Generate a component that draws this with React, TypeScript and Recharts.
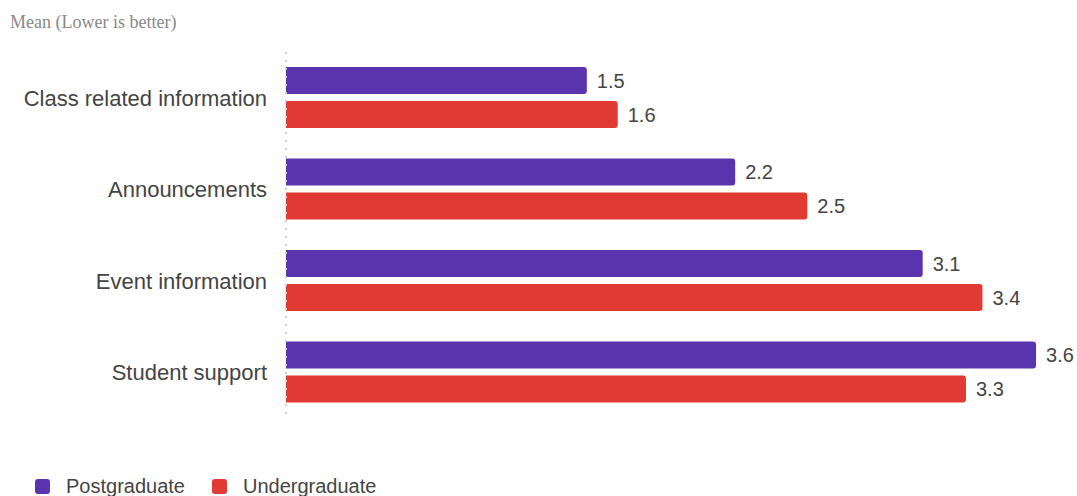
import { BarChart, Bar, XAxis, YAxis, Legend, LabelList } from "recharts";

// categories and series (mean scores, lower is better)
const categories = ["Class related information", "Announcements", "Event information", "Student support"];
const postgraduate = [1.46, 2.18, 3.09, 3.64];
const undergraduate = [1.61, 2.53, 3.38, 3.3];

const seriesInfo = [
  { key: "postgraduate", name: "Postgraduate", color: "#5a33ae" },
  { key: "undergraduate", name: "Undergraduate", color: "#e03a33" },
];

const data = categories.map((c, i) => ({
  category: c,
  postgraduate: postgraduate[i],
  undergraduate: undergraduate[i],
}));

const FONT = '"Liberation Sans", Arial, sans-serif';

const renderLegend = () => (
  <div
    style={{
      height: 78,
      boxSizing: "border-box",
      paddingTop: 58,
      paddingLeft: 27,
      display: "flex",
      alignItems: "flex-start",
      fontFamily: FONT,
      fontSize: 20,
      color: "#444",
    }}
  >
    {seriesInfo.map((s) => (
      <div key={s.key} style={{ display: "flex", alignItems: "center", height: 20, marginRight: 27 }}>
        <span
          style={{
            display: "inline-block",
            width: 15,
            height: 15,
            borderRadius: 3,
            background: s.color,
            marginRight: 16,
          }}
        />
        <span>{s.name}</span>
      </div>
    ))}
  </div>
);

export default function App() {
  return (
    <div style={{ position: "relative", width: 1077, height: 496, boxSizing: "border-box", padding: 8, overflow: "hidden" }}>
      <style>{"body { margin: 0; }"}</style>
      {/* 标题 */}
      <div
        style={{
          position: "absolute",
          left: 10,
          top: 12,
          fontFamily: '"Liberation Serif", "Times New Roman", serif',
          fontSize: 18,
          color: "#888",
        }}
      >
        Mean (Lower is better)
      </div>
      <BarChart
        width={1069}
        height={488}
        data={data}
        layout="vertical"
        margin={{ top: 44, right: 8, left: 0, bottom: 0 }}
        barSize={27}
        barGap={7}
      >
        <XAxis type="number" domain={[0, 3.8]} hide />
        <YAxis
          type="category"
          dataKey="category"
          width={278}
          tickLine={false}
          tickSize={0}
          tickMargin={19}
          axisLine={{ stroke: "#ccc", strokeWidth: 2, strokeDasharray: "2 6" }}
          tick={{ fontSize: 22, fill: "#444", fontFamily: FONT }}
        />
        <Legend verticalAlign="bottom" content={renderLegend} wrapperStyle={{ left: 0, bottom: 0, width: 1069 }} />
        {seriesInfo.map((s) => (
          <Bar key={s.key} dataKey={s.key} name={s.name} fill={s.color} radius={[0, 3, 3, 0]} isAnimationActive={false}>
            <LabelList
              dataKey={s.key}
              position="right"
              offset={10}
              fill="#444"
              fontSize={20}
              fontFamily={FONT}
              formatter={(v: number) => v.toFixed(1)}
            />
          </Bar>
        ))}
      </BarChart>
    </div>
  );
}
